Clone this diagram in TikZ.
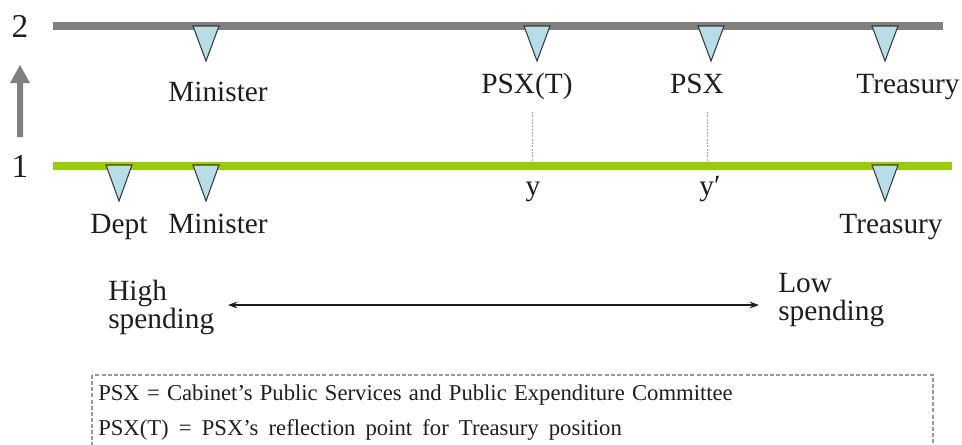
\documentclass[tikz,border=0pt]{standalone}
\usepackage{fontspec}
\setmainfont{Liberation Serif}
\usetikzlibrary{arrows.meta}
\definecolor{lvlgray}{HTML}{808080}
\definecolor{lvlgreen}{HTML}{99CC00}
\definecolor{trifill}{HTML}{B7DEE8}
\definecolor{triline}{HTML}{3A3A3A}
\definecolor{txt}{HTML}{1E1E1E}
\tikzset{
  lbl/.style={anchor=base, inner sep=0pt, text=txt, font=\fontsize{22pt}{26pt}\selectfont},
  lvlnum/.style={anchor=center, inner sep=0pt, text=txt, font=\fontsize{25pt}{28pt}\selectfont},
  legend/.style={anchor=base west, inner sep=0pt, text=txt, font=\fontsize{17pt}{20pt}\selectfont},
  tri/.style={fill=trifill, draw=triline, line width=0.8pt, line join=miter},
  guide/.style={draw=gray!70, line width=0.6pt, dash pattern=on 1.5pt off 1pt},
}
\newcommand\postri[3]{\draw[tri] ({#1-13},#2) -- ({#1+13},#2) -- (#1,{#2+#3}) -- cycle;}
\begin{document}
\begin{tikzpicture}[x=0.75pt,y=-0.75pt]
\useasboundingbox (0,0) rectangle (962,444);
% level lines
\draw[lvlgray, line width=6pt] (53,26) -- (943,26);
\draw[lvlgreen, line width=5.5pt] (53,166) -- (952,166);
% level numbers
\node[lvlnum] (n2) at (20,26) {2};
\node[lvlnum] (n1) at (20,166) {1};
% up arrow
\fill[lvlgray] (17,137) -- (17,83) -- (10,83) -- (20,65) -- (30,83) -- (23,83) -- (23,137) -- cycle;
% triangles, level 2
\postri{206}{26}{35}
\postri{537}{26}{35}
\postri{711}{26}{35}
\postri{885}{26}{35}
% triangles, level 1
\postri{119}{165}{36}
\postri{206}{165}{36}
\postri{885}{165}{36}
% labels level 2
\node[lbl] (min2) at (218,101) {Minister};
\node[lbl] (psxt) at (527,93) {PSX(T)};
\node[lbl] (psx) at (697,93) {PSX};
\node[lbl] (tre2) at (908,93) {Treasury};
% labels level 1
\node[lbl] (dept) at (119,233) {Dept};
\node[lbl] (min1) at (218,233) {Minister};
\node[lbl] (tre1) at (891,233) {Treasury};
\node[lbl] (y1) at (533,195) {y};
\node[lbl] (y2) at (710,195) {y′};
% guides
\coordinate (g1t) at (532,112);
\coordinate (g1b) at (532,163);
\coordinate (g2t) at (707,112);
\coordinate (g2b) at (707,163);
\draw[guide] (g1t) -- (g1b);
\draw[guide] (g2t) -- (g2b);
% spending scale
\node[lbl, anchor=base west] (high) at (108,300) {High};
\node[lbl, anchor=base west] (highs) at (108,328) {spending};
\node[lbl, anchor=base west] (low) at (778,292) {Low};
\node[lbl, anchor=base west] (lows) at (778,320) {spending};
\coordinate (al) at (228,305);
\coordinate (ar) at (759,305);
\draw[{Stealth[length=7pt,width=5pt]}-{Stealth[length=7pt,width=5pt]}, line width=1pt, txt] (al) -- (ar);
% legend
\draw[gray!80, line width=1pt, dash pattern=on 3pt off 1.6pt] (92,375) rectangle (933,470);
\node[legend] (leg1) at (98,400) {\spaceskip=5.4pt PSX = Cabinet’s Public Services and Public Expenditure Committee};
\node[legend] (leg2) at (98,435) {\spaceskip=7.6pt PSX(T) = PSX’s reflection point for Treasury position};
\end{tikzpicture}
\end{document}
